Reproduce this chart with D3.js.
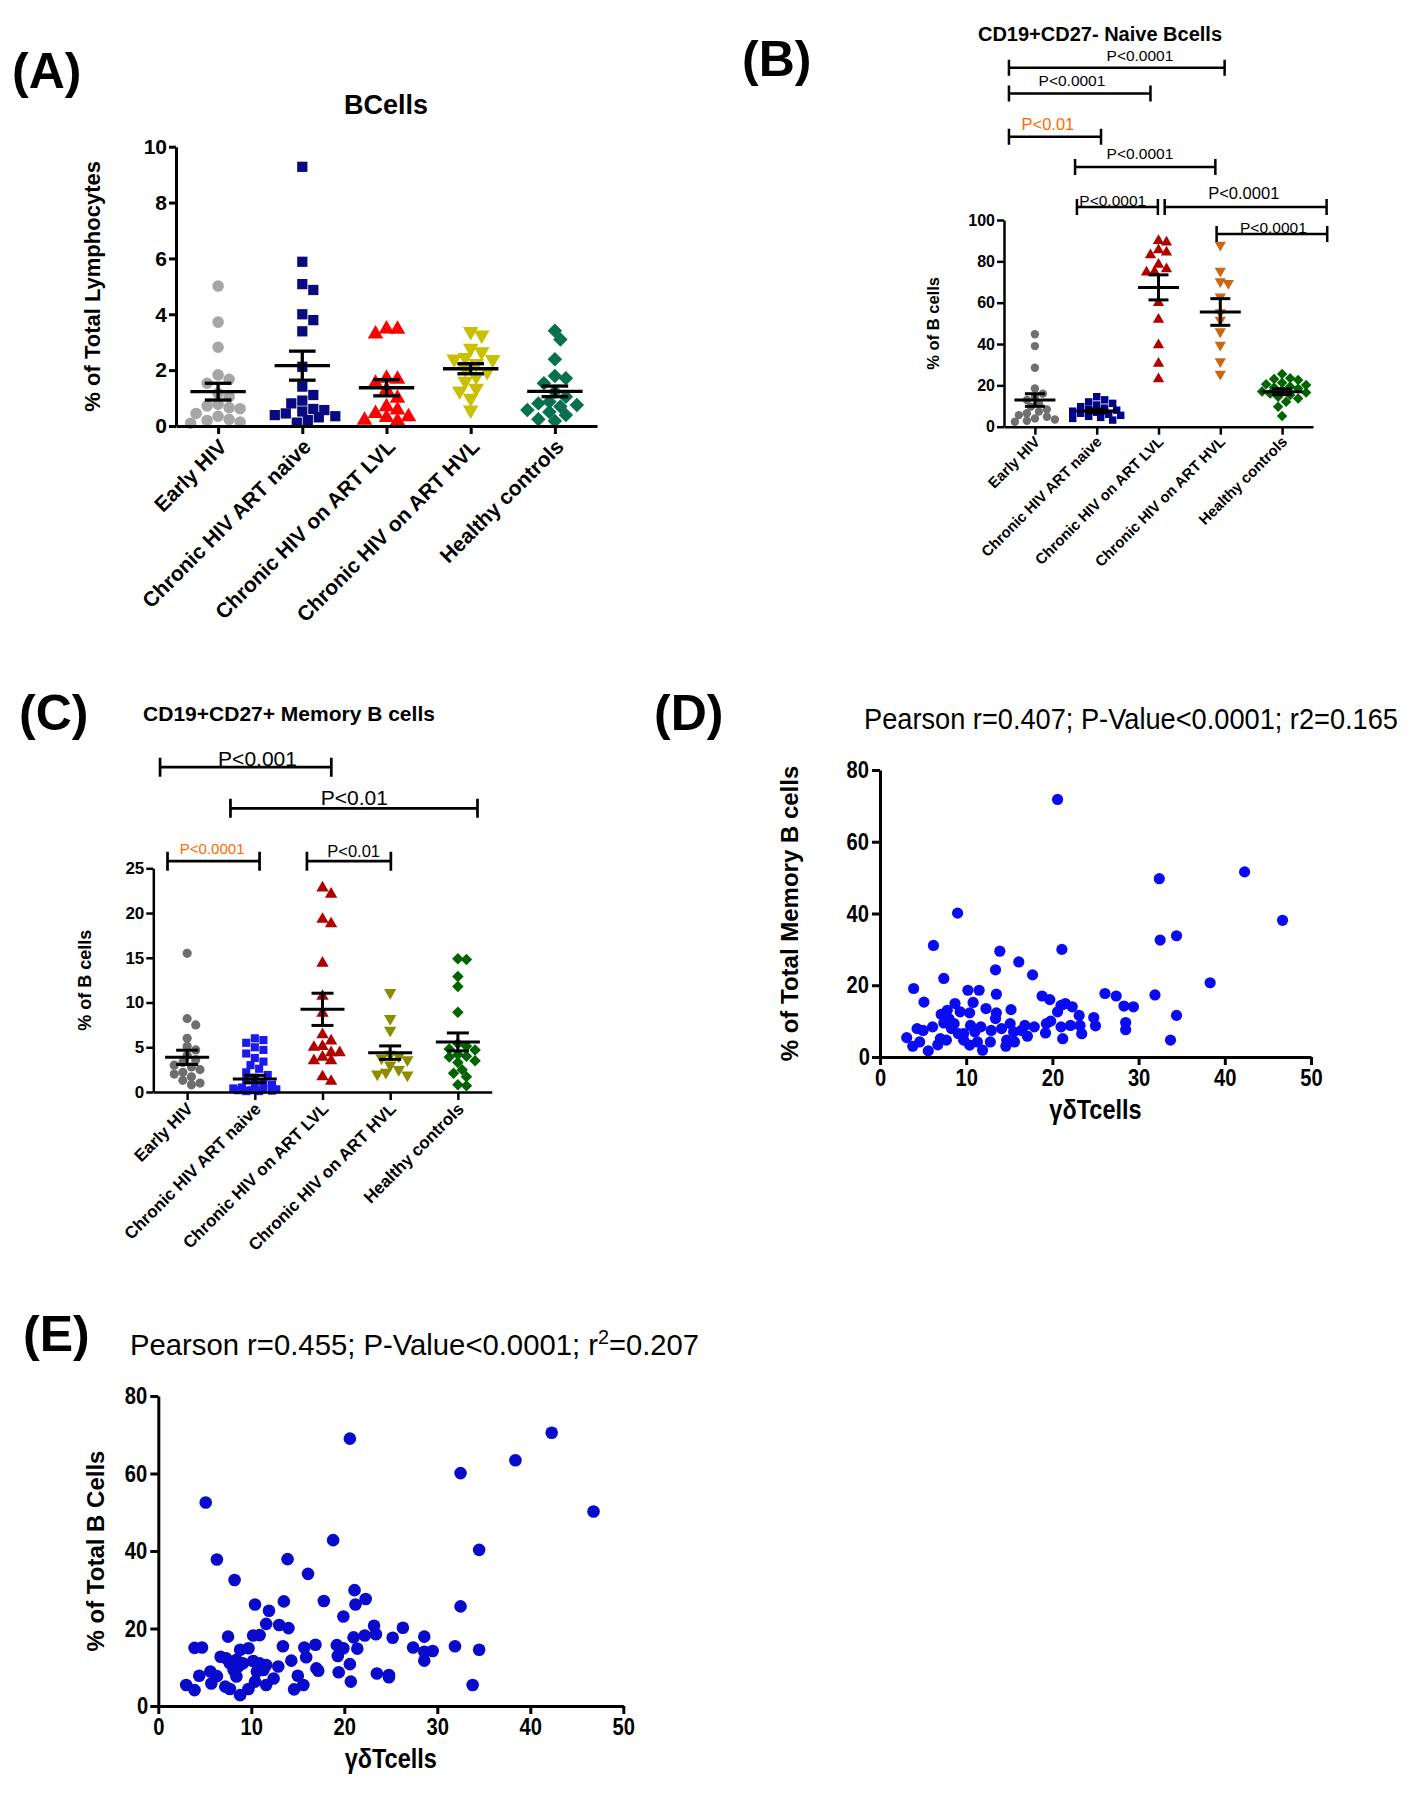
<!DOCTYPE html>
<html>
<head>
<meta charset="utf-8">
<script src="https://cdn.jsdelivr.net/npm/d3@7/dist/d3.min.js"></script>
<style>
  body { margin: 0; background: #fff; }
  .narrow { transform-box: fill-box; transform-origin: center; transform: scaleX(0.84); }
  .tall { transform-box: fill-box; transform-origin: left bottom; transform: scaleY(1.1); }
</style>
</head>
<body>
<div id="fig"></div>
<script>
var groups = ['Early HIV', 'Chronic HIV ART naive', 'Chronic HIV on ART LVL', 'Chronic HIV on ART HVL', 'Healthy controls'];

// (A) B cells, % of total lymphocytes
var bcellVals = [
  [5.01, 3.72, 2.82, 1.83, 1.67, 1.53, 1.17, 1.05, 0.78, 0.72, 0.66, 0.62, 0.45, 0.35, 0.24, 0.2, 0.14, 0.1],
  [9.28, 5.88, 5.08, 4.87, 4.0, 3.79, 3.39, 2.12, 1.41, 1.11, 0.91, 0.81, 0.61, 0.57, 0.52, 0.45, 0.39, 0.35, 0.31, 0.21, 0.12],
  [3.47, 3.46, 3.29, 1.71, 1.67, 1.53, 1.29, 0.99, 0.69, 0.57, 0.45, 0.33, 0.3, 0.21, 0.18],
  [3.38, 3.26, 2.78, 2.66, 2.45, 2.4, 2.38, 2.24, 2.05, 1.95, 1.77, 1.6, 1.35, 1.25, 0.99, 0.57],
  [3.41, 3.1, 2.39, 1.79, 1.71, 1.53, 1.23, 1.05, 0.87, 0.81, 0.75, 0.7, 0.57, 0.5, 0.39, 0.24, 0.18]
];
var bcellMean = [1.23, 2.16, 1.37, 2.05, 1.24];
var bcellSem = [0.30, 0.52, 0.29, 0.18, 0.19];
var bcellTicks = [0, 2, 4, 6, 8, 10];

// (B) CD19+CD27- naive B cells, % of B cells
var naiveVals = [
  [44.7, 39.0, 28.5, 18.5, 16, 14.5, 12.9, 11.3, 9.7, 8.4, 7.3, 6.5, 5.6, 4.8, 4.0, 3.5, 2.9, 2.4],
  [14.5, 13, 12, 11.3, 10.5, 9.7, 9, 8.4, 8, 7.5, 7, 6.5, 6, 5.5, 5, 4.5, 4, 3.2],
  [90, 89.2, 85.5, 84.4, 83.1, 78.5, 76.3, 75, 74.7, 60, 51.9, 39.5, 30.6, 23.1],
  [87.9, 75.3, 70.2, 69.4, 62.9, 55.3, 51.6, 46, 39.5, 31.5, 25.5],
  [25.5, 23.5, 23.1, 22.6, 21.3, 20.5, 20.2, 19.5, 19, 18.5, 17.7, 17, 16.5, 16, 15.3, 14.5, 13.7, 12.1, 9.7, 5.2]
];
var naiveMean = [12.9, 7.6, 67.4, 55.5, 16.9];
var naiveSem = [3.05, 0.95, 6.05, 6.45, 1.4];
var naiveTicks = [0, 20, 40, 60, 80, 100];
var naiveBrackets = [
  {from: -0.42, to: 3.07, at: 173.7, label: 'P<0.0001', mid: 1.70, lift: 7, size: 15.5},
  {from: -0.42, to: 1.87, at: 161.2, label: 'P<0.0001', mid: 0.60, lift: 7, size: 15.5},
  {from: -0.42, to: 1.07, at: 140.3, label: 'P<0.01', mid: 0.21, lift: 7, size: 16.5, hot: true},
  {from: 0.65, to: 2.92, at: 125.7, label: 'P<0.0001', mid: 1.70, lift: 8, size: 15.5},
  {from: 0.68, to: 1.99, at: 106.3, label: 'P<0.0001', mid: 1.26, lift: 1, size: 15.5},
  {from: 2.10, to: 4.72, at: 106.3, label: 'P<0.0001', mid: 3.38, lift: 8, size: 16.5},
  {from: 2.94, to: 4.73, at: 93.2, label: 'P<0.0001', mid: 3.86, lift: 1, size: 15.5}
];

// (C) CD19+CD27+ memory B cells, % of B cells
var memoryVals = [
  [15.5, 8.2, 7.5, 6.0, 5.1, 4.7, 4.1, 3.6, 3.3, 3.0, 2.8, 2.5, 2.2, 2.0, 1.7, 1.3, 1.0, 0.8],
  [6.0, 5.8, 5.5, 5.0, 4.7, 4.3, 3.8, 3.4, 3.0, 2.6, 2.2, 1.9, 1.6, 1.3, 1.0, 0.8, 0.6, 0.5, 0.4, 0.3, 0.3, 0.2, 0.2, 0.15, 0.1, 0.1],
  [22.8, 22.1, 19.3, 18.8, 14.4, 10.7, 8.8, 6.4, 5.7, 5.1, 5.0, 4.4, 4.4, 3.9, 3.5, 3.5, 1.7, 1.2],
  [11.1, 8.2, 6.9, 4.2, 4.0, 3.8, 3.6, 3.0, 2.5, 2.2, 2.0, 1.9],
  [14.9, 14.8, 12.9, 11.8, 8.9, 5.4, 5.1, 4.8, 4.7, 4.2, 4.0, 3.9, 3.5, 3.3, 2.5, 2.1, 1.7, 0.8, 0.7]
];
var memoryMean = [3.87, 1.45, 9.24, 4.4, 5.6];
var memorySem = [0.8, 0.41, 1.8, 0.75, 1.0];
var memoryTicks = [0, 5, 10, 15, 20, 25];
var memoryBrackets = [
  {from: -0.40, to: 2.13, at: 36.3, label: 'P<0.001', mid: 1.04, lift: 1.5, size: 21},
  {from: 0.64, to: 4.29, at: 31.7, label: 'P<0.01', mid: 2.47, lift: 3, size: 21},
  {from: -0.29, to: 1.07, at: 25.8, label: 'P<0.0001', mid: 0.37, lift: 7, size: 15, hot: true},
  {from: 1.77, to: 3.01, at: 25.8, label: 'P<0.01', mid: 2.46, lift: 4, size: 16.5}
];

// (D) gd T cells vs memory B cells
var memGdT = [20.6,42.3,32.4,9.0,46.7,34.4,32.5,6.2,21.1,13.9,16.1,13.4,17.7,7.4,38.3,3.9,10.2,11.5,13.5,26.1,27.4,31.9,18.8,19.7,5.1,28.3,29.4,21.0,21.5,22.3,10.8,8.7,7.8,12.3,15.2,20.6,13.5,23.1,7.1,8.0,9.3,10.4,24.8,34.4,13.4,7.4,8.3,10.5,11.7,28.5,28.5,25.0,23.4,15.1,16.8,17.9,19.3,19.8,21.0,22.1,23.2,4.3,5.0,6.1,9.7,11.0,12.9,14.1,15.5,16.4,19.2,3.1,7.0,7.7,9.7,11.3,12.8,14.7,15.6,17.1,21.2,33.7,3.8,4.6,6.7,10.4,14.6,11.9,5.6,9.1,8.6];
var memB = [71.8,51.6,49.7,40.1,38.1,33.8,32.6,31.1,30.0,29.5,26.5,24.3,22.9,21.9,20.7,19.1,18.6,18.6,17.5,17.7,17.0,17.3,17.0,16.0,15.3,14.2,14.0,14.4,14.9,14.0,15.2,14.9,13.0,13.5,13.2,12.6,12.3,11.6,11.9,10.7,12.6,12.3,11.0,11.6,10.7,9.5,7.9,8.8,8.4,9.6,7.6,8.7,6.5,9.3,8.8,8.4,9.3,10.0,8.4,8.8,8.8,7.9,7.4,8.4,6.5,7.0,7.4,7.9,7.0,7.4,6.7,5.4,5.1,4.7,4.7,4.2,4.2,4.7,4.2,5.8,5.1,4.7,3.0,4.2,3.4,3.3,3.0,1.9,1.7,6.5,9.3];

// (E) gd T cells vs total B cells
var totGdT = [20.6,42.3,38.4,32.5,5.1,46.8,18.8,34.5,6.3,13.9,16.1,8.2,32.5,10.4,13.5,17.8,21.1,22.3,21.2,11.9,19.9,11.6,13.0,14.0,23.2,26.3,7.5,10.2,10.9,23.4,21.0,22.2,25.2,28.6,3.9,4.7,13.4,16.9,15.7,19.2,19.9,21.4,27.4,31.9,34.5,8.8,9.7,28.6,29.5,6.7,7.3,8.4,7.7,9.1,10.2,10.9,11.6,12.9,14.3,15.9,19.3,28.6,20.6,8.1,8.6,10.6,11.3,12.4,17.0,17.2,15.0,4.4,5.6,6.3,8.4,19.4,23.5,24.8,24.8,3.0,3.9,5.7,7.2,7.7,9.7,10.4,11.6,14.6,15.6,20.7,33.8,8.8];
var totB = [69.0,70.5,63.4,60.1,52.5,50.2,42.8,40.3,37.8,37.9,34.1,32.5,25.7,26.2,27.0,27.1,29.9,27.6,26.2,24.6,23.1,21.2,20.9,20.1,20.7,20.2,17.9,18.2,18.3,18.5,17.7,18.2,17.6,17.9,15.0,15.1,15.4,15.8,15.1,15.7,14.9,14.8,15.1,15.4,14.5,14.5,14.9,14.0,14.2,12.7,12.3,11.9,11.0,11.0,11.6,11.0,10.6,10.2,11.7,12.6,12.9,11.7,10.8,9.3,10.2,8.9,9.3,7.1,9.7,9.1,7.8,7.8,8.9,7.7,7.6,8.7,8.4,8.0,7.4,5.4,4.1,5.8,5.0,4.4,4.4,6.3,5.4,4.3,5.4,6.3,5.4,2.8];
var gdTicks = [0, 10, 20, 30, 40, 50];
var pctTicks = [0, 20, 40, 60, 80];

var svg = d3.select('#fig').append('svg')
            .attr('width', 1415).attr('height', 1800)
            .style('font-family', '"Liberation Sans", Arial, sans-serif');
svg.append('rect').attr('width', 1415).attr('height', 1800).attr('fill', '#fff');

function panelLetter(txt, x, y){
  svg.append('text').attr('x', x).attr('y', y).text(txt)
     .attr('font-size', '50px').attr('font-weight', 'bold');
}

function symbolFor(shape, size){
  var t = shape === 'circle' ? d3.symbolCircle :
          (shape === 'triangle' || shape === 'down') ? d3.symbolTriangle : d3.symbolSquare;
  return d3.symbol().type(t).size(size)();
}

// non-random swarm: push points sideways until they stop overlapping,
// but never wider than maxOff (then take the least crowded slot)
function swarm(vals, y, diam, maxOff){
  var pts = vals.map(function(v){ return {v: v, py: y(v)}; })
                .sort(function(a, b){ return a.py - b.py; });
  var placed = [];
  pts.forEach(function(p){
    var best = 0, bestGap = -1;
    for (var k = 0; k < 80; k++){
      var off = k === 0 ? 0 : (k % 2 === 1 ? 1 : -1) * Math.ceil(k / 2) * diam * 0.5;
      if (Math.abs(off) > maxOff) break;
      var gap = d3.min(placed, function(q){ return Math.hypot(q.dx - off, q.py - p.py); });
      if (gap === undefined) gap = Infinity;
      if (gap >= diam * 0.92){ best = off; bestGap = gap; break; }
      if (gap > bestGap){ best = off; bestGap = gap; }
    }
    p.dx = best;
    placed.push(p);
  });
  return placed;
}

function dotPanel(c){
  var g = svg.append('g');
  var x = d3.scalePoint().domain(groups).range([c.x0, c.x1]).padding(0.5);
  var y = d3.scaleLinear().domain([0, c.top]).range([c.y0, c.y1]);
  var xi = d3.scaleLinear().domain([0, 4]).range([x(groups[0]), x(groups[4])]);

  groups.forEach(function(name, i){
    var pts = swarm(c.vals[i], y, c.diam, c.spread);
    g.selectAll(null).data(pts).enter().append('path')
     .attr('d', symbolFor(c.shapes[i], c.msize))
     .attr('fill', c.colors[i])
     .attr('transform', function(d){
       var rot = c.shapes[i] === 'down' ? 180 : c.shapes[i] === 'diamond' ? 45 : 0;
       return 'translate(' + (x(name) + d.dx) + ',' + d.py + ') rotate(' + rot + ')';
     });
  });

  // mean and SEM
  var ms = groups.map(function(name, i){ return {x: x(name), m: c.mean[i], s: c.sem[i]}; });
  var eb = g.selectAll(null).data(ms).enter().append('g')
            .attr('stroke', '#000').attr('stroke-width', c.sw);
  eb.append('line').attr('x1', function(d){ return d.x - c.mw; }).attr('x2', function(d){ return d.x + c.mw; })
    .attr('y1', function(d){ return y(d.m); }).attr('y2', function(d){ return y(d.m); });
  eb.append('line').attr('x1', function(d){ return d.x; }).attr('x2', function(d){ return d.x; })
    .attr('y1', function(d){ return y(d.m + d.s); }).attr('y2', function(d){ return y(d.m - d.s); });
  [1, -1].forEach(function(sg){
    eb.append('line').attr('x1', function(d){ return d.x - c.cw; }).attr('x2', function(d){ return d.x + c.cw; })
      .attr('y1', function(d){ return y(d.m + sg * d.s); }).attr('y2', function(d){ return y(d.m + sg * d.s); });
  });

  // axes
  var ya = g.append('g').attr('transform', 'translate(' + c.x0 + ',0)')
            .call(d3.axisLeft(y).tickValues(c.ticks).tickSize(7).tickSizeOuter(0).tickPadding(2));
  var xa = g.append('g').attr('transform', 'translate(0,' + c.y0 + ')')
            .call(d3.axisBottom(x).tickSize(8).tickSizeOuter(0).tickFormat(''));
  [ya, xa].forEach(function(a){
    a.select('.domain').attr('stroke-width', c.aw);
    a.selectAll('.tick line').attr('stroke-width', c.aw);
  });
  ya.selectAll('text').attr('font-size', c.tickFont + 'px').attr('font-weight', 'bold')
    .attr('font-family', '"Liberation Sans", Arial, sans-serif').attr('fill', '#000');

  g.selectAll(null).data(groups).enter().append('text')
   .attr('transform', function(d){
     return 'translate(' + (x(d) + c.labDx) + ',' + (c.y0 + c.labDy) + ') rotate(-45)';
   })
   .attr('text-anchor', 'end').attr('font-size', c.catFont + 'px').attr('font-weight', 'bold')
   .text(function(d){ return d; });

  g.append('text')
   .attr('transform', 'translate(' + c.ylabX + ',' + ((c.y0 + c.y1) / 2) + ') rotate(-90)')
   .attr('text-anchor', 'middle').attr('dy', '0.35em')
   .attr('font-size', c.ylabFont + 'px').attr('font-weight', 'bold')
   .text(c.ylab);

  g.append('text').attr('x', c.titleX).attr('y', c.titleY).attr('text-anchor', 'middle')
   .attr('font-size', c.titleFont + 'px').attr('font-weight', 'bold').text(c.title);

  if (c.brackets){
    var br = g.selectAll(null).data(c.brackets).enter().append('g');
    br.append('path')
      .attr('d', function(d){
        var a = xi(d.from), b = xi(d.to), h = y(d.at);
        return 'M' + a + ',' + (h - c.bh) + 'V' + (h + c.bh) + 'M' + a + ',' + h + 'H' + b +
               'M' + b + ',' + (h - c.bh) + 'V' + (h + c.bh);
      })
      .attr('fill', 'none').attr('stroke', '#000').attr('stroke-width', c.bw);
    br.append('text')
      .attr('x', function(d){ return xi(d.mid); })
      .attr('y', function(d){ return y(d.at) - d.lift; })
      .attr('text-anchor', 'middle')
      .attr('font-size', function(d){ return d.size + 'px'; })
      .attr('fill', function(d){ return d.hot ? '#ff6a00' : '#000'; })
      .text(function(d){ return d.label; });
  }
}

function scatterPanel(c){
  var g = svg.append('g');
  var x = d3.scaleLinear().domain([0, 50]).range([c.x0, c.x1]);
  var y = d3.scaleLinear().domain([0, 80]).range([c.y0, c.y1]);

  g.selectAll('circle').data(c.xs).enter().append('circle')
   .attr('cx', function(d){ return x(d); })
   .attr('cy', function(d, i){ return y(c.ys[i]); })
   .attr('r', c.r).attr('fill', c.color);

  var xa = g.append('g').attr('transform', 'translate(0,' + c.y0 + ')')
            .call(d3.axisBottom(x).tickValues(gdTicks).tickSize(8).tickSizeOuter(0).tickPadding(4));
  var ya = g.append('g').attr('transform', 'translate(' + c.x0 + ',0)')
            .call(d3.axisLeft(y).tickValues(pctTicks).tickSize(8).tickSizeOuter(0).tickPadding(1));
  [xa, ya].forEach(function(a){
    a.select('.domain').attr('stroke-width', 3);
    a.selectAll('.tick line').attr('stroke-width', 3);
    a.selectAll('text').attr('font-size', '24px').attr('font-weight', 'bold')
     .attr('class', 'narrow').attr('fill', '#000');
  });

  g.append('text').attr('x', (c.x0 + c.x1) / 2).attr('y', c.y0 + 62)
   .attr('text-anchor', 'middle').attr('class', 'narrow')
   .attr('font-size', '28px').attr('font-weight', 'bold').text('γδTcells');

  g.append('text')
   .attr('transform', 'translate(' + c.ylabX + ',' + ((c.y0 + c.y1) / 2) + ') rotate(-90)')
   .attr('text-anchor', 'middle').attr('dy', '0.35em')
   .attr('font-size', '24px').attr('font-weight', 'bold').text(c.ylab);

  // title pieces, fitted to the width seen in the figure
  var tx = c.titleX;
  c.title.forEach(function(p){
    g.append('text').attr('x', tx).attr('y', c.y1 - 40 - (p.sup ? 12 : 0))
     .attr('class', 'tall').attr('font-size', (p.sup ? 18 : 27) + 'px')
     .attr('textLength', p.w).attr('lengthAdjust', 'spacingAndGlyphs')
     .text(p.t);
    tx += p.w;
  });
}

panelLetter('(A)', 12, 88);
panelLetter('(B)', 742, 76);
panelLetter('(C)', 19, 730);
panelLetter('(D)', 654, 730);
panelLetter('(E)', 23, 1351);

dotPanel({
  vals: bcellVals, mean: bcellMean, sem: bcellSem, ticks: bcellTicks, top: 10,
  x0: 176, x1: 597, y0: 426, y1: 146.7,
  colors: ['#a6a6a6', '#0a0a80', '#ff0000', '#c8c000', '#07704f'],
  shapes: ['circle', 'square', 'triangle', 'down', 'diamond'],
  msize: 105, diam: 11, spread: 38, mw: 27.7, cw: 13.3, sw: 3.3, aw: 3,
  tickFont: 21, catFont: 21, labDx: 10, labDy: 22,
  ylab: '% of Total Lymphocytes', ylabX: 92, ylabFont: 22,
  title: 'BCells', titleX: 386, titleY: 114, titleFont: 27
});

dotPanel({
  vals: naiveVals, mean: naiveMean, sem: naiveSem, ticks: naiveTicks, top: 100,
  x0: 1004, x1: 1313, y0: 426.7, y1: 220,
  colors: ['#707070', '#00008b', '#b00000', '#cc6611', '#006400'],
  shapes: ['circle', 'square', 'triangle', 'down', 'diamond'],
  msize: 55, diam: 8, spread: 26, mw: 20.5, cw: 10, sw: 3, aw: 2.5,
  tickFont: 16, catFont: 15, labDx: 6, labDy: 16,
  ylab: '% of B cells', ylabX: 933, ylabFont: 16.5,
  title: 'CD19+CD27- Naive Bcells', titleX: 1100, titleY: 41, titleFont: 20,
  brackets: naiveBrackets, bh: 8, bw: 2.5
});

dotPanel({
  vals: memoryVals, mean: memoryMean, sem: memorySem, ticks: memoryTicks, top: 25,
  x0: 153.3, x1: 491.7, y0: 1092, y1: 868.3,
  colors: ['#6e6e6e', '#1a1aee', '#b00000', '#8c8c00', '#006400'],
  shapes: ['circle', 'square', 'triangle', 'down', 'diamond'],
  msize: 66, diam: 8.6, spread: 24, mw: 22, cw: 11, sw: 3, aw: 2.5,
  tickFont: 17, catFont: 17, labDx: 7, labDy: 18,
  ylab: '% of B cells', ylabX: 85, ylabFont: 18,
  title: 'CD19+CD27+ Memory B cells', titleX: 289, titleY: 721, titleFont: 21,
  brackets: memoryBrackets, bh: 9.5, bw: 2.7
});

scatterPanel({
  xs: memGdT, ys: memB, x0: 880, x1: 1311, y0: 1057, y1: 770,
  r: 5.6, color: '#0a0af5', ylabX: 790,
  ylab: '% of Total Memory B cells',
  titleX: 864, title: [{t: 'Pearson r=0.407; P-Value<0.0001; r2=0.165', w: 534}]
});

scatterPanel({
  xs: totGdT, ys: totB, x0: 158.3, x1: 623.3, y0: 1706, y1: 1396,
  r: 6.3, color: '#0a0acc', ylabX: 96,
  ylab: '% of Total B Cells',
  titleX: 130, title: [{t: 'Pearson r=0.455; P-Value<0.0001; r', w: 468}, {t: '2', w: 11, sup: true}, {t: '=0.207', w: 90}]
});
</script>
</body>
</html>
